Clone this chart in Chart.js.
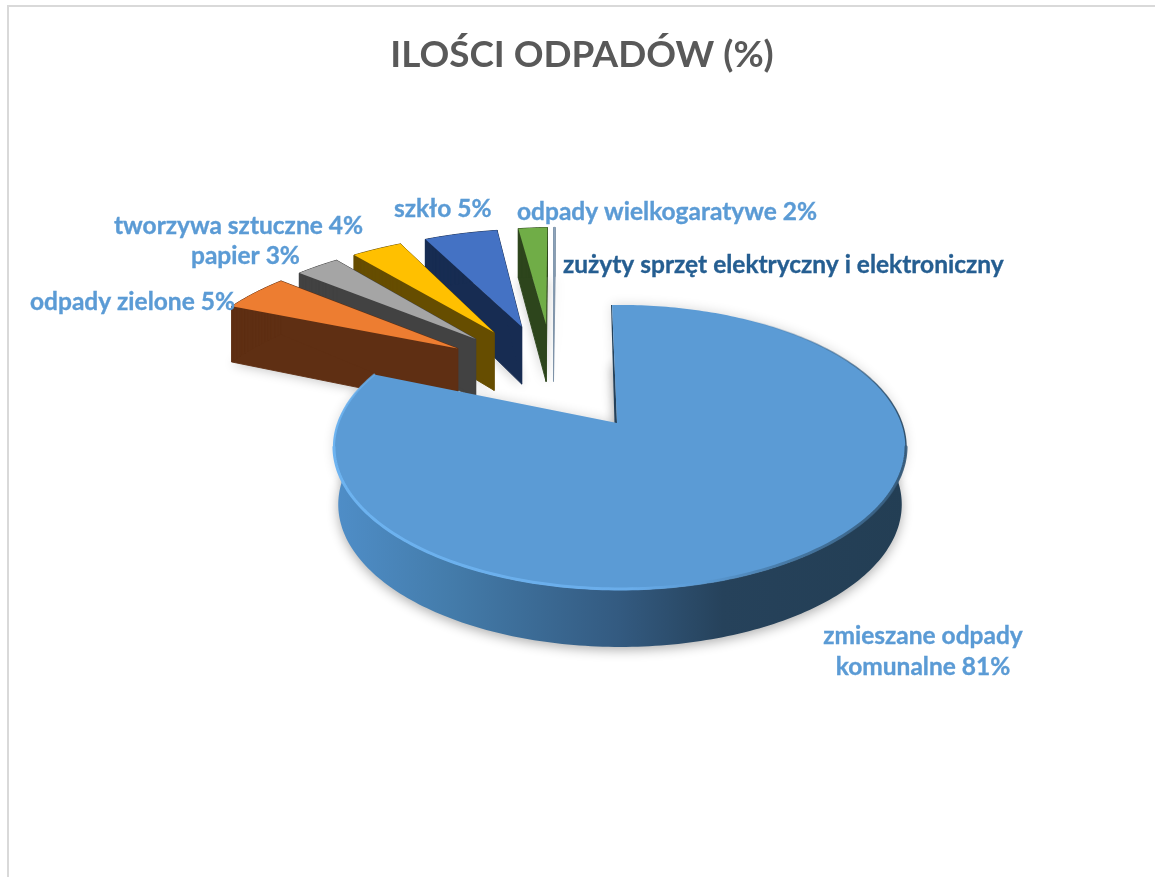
<!DOCTYPE html>
<html><head><meta charset="utf-8">
<style>
html,body{margin:0;padding:0;background:#fff;overflow:hidden}
#frame{position:absolute;left:7px;top:5px;width:1148px;height:872px;border-left:2px solid #d9d9d9;border-top:2px solid #d9d9d9;box-sizing:border-box}
canvas{display:block}
</style>
<script src="https://cdn.jsdelivr.net/npm/chart.js@4"></script>
</head><body>
<div id="frame"><canvas id="c" width="1146" height="870"></canvas></div>
<script>
const titleText = 'ILOŚCI ODPADÓW (%)';
const categories = ['zmieszane odpady komunalne','odpady zielone','papier','tworzywa sztuczne','szkło','odpady wielkogaratywe','zużyty sprzęt elektryczny i elektroniczny'];
const shares = [81.4,4.55,3.0,3.5,5.15,2.05,0.1];
const shownPercent = [81,5,3,4,5,2,null];
const topColors = ['#5B9BD5','#ED7D31','#A5A5A5','#FFC000','#4472C4','#70AD47','#8EA4BC'];
const wallColors = ['#24415A','#5F2F13','#424242','#664D00','#172C52','#2D451C','#7F93A8'];
const labelColors = ['#5B9BD5','#5B9BD5','#5B9BD5','#5B9BD5','#5B9BD5','#5B9BD5','#255E91'];

// 3D look: projection of the pie plane on the page (canvas pixels)
const VIEW = {cx:611, cy:416, kx:281.8, ky:138.3, p:0.1716, explode:0.44, depth:57, farDepth:65, inset:0.985, smallScale:1.05, smallDX:0, smallDY:-1.5, bigTipDX:-3};
const LABEL_FONT = 'bold 24.5px Lato, Carlito, "Open Sans", sans-serif';
// label anchors: [x, y, align] per line, canvas pixels
const LABEL_LAYOUT = [
  [[914,629,'center'],[914,660,'center']],
  [[21,295,'left']],
  [[182,249,'left']],
  [[105,219,'left']],
  [[385,202,'left']],
  [[508,205,'left']],
  [[554,258,'left']]
];
const LABEL_LINES = [
  ['zmieszane odpady','komunalne '+shownPercent[0]+'%'],
  null,null,null,null,null,null
];

function project(X,Y){
  const w = 1 - VIEW.p*Y;
  return {x:VIEW.cx+VIEW.kx*X/w, y:VIEW.cy+VIEW.ky*Y/w, w};
}
function sliceOutline(el, blueMid, isBig){
  const mid=(el.startAngle+el.endAngle)/2, E=VIEW.explode;
  const scale=isBig?1:VIEW.smallScale;
  const tx=E*(Math.cos(mid)-Math.cos(blueMid)), ty=E*(Math.sin(mid)-Math.sin(blueMid));
  const n=Math.max(2,Math.ceil((el.endAngle-el.startAngle)/(Math.PI/180)));
  const nudge=q=>isBig?q:{x:q.x+VIEW.smallDX,y:q.y+VIEW.smallDY,w:q.w};
  const arc=[];
  for(let i=0;i<=n;i++){
    const a=el.startAngle+(el.endAngle-el.startAngle)*i/n;
    arc.push(nudge(project(scale*Math.cos(a)+tx,scale*Math.sin(a)+ty)));
  }
  const tip=nudge(project(tx,ty));
  if(isBig) tip.x+=VIEW.bigTipDX;
  return {tip,arc};
}
function poly(ctx,pts,dx=0,dy=0){
  ctx.beginPath();
  pts.forEach((q,i)=>i?ctx.lineTo(q.x+dx,q.y+dy):ctx.moveTo(q.x+dx,q.y+dy));
  ctx.closePath();
}
function lowerBlue(q){return {x:VIEW.cx+(q.x-VIEW.cx)*VIEW.inset,y:q.y+VIEW.depth};}
function lowerSmall(q){return {x:q.x,y:q.y+VIEW.farDepth/q.w};}
function strokeRun(ctx,pts,style,width){
  if(!pts.length) return;
  ctx.strokeStyle=style;ctx.lineWidth=width;ctx.lineCap='round';
  ctx.beginPath();
  pts.forEach((q,j)=>j?ctx.lineTo(q.x,q.y):ctx.moveTo(q.x,q.y));
  ctx.stroke();
}

const pie3d = {
  id:'pie3d',
  beforeDatasetDraw(chart){
    const ctx=chart.ctx, els=chart.getDatasetMeta(0).data;
    const blueMid=(els[0].startAngle+els[0].endAngle)/2;
    const shapes=els.map((el,i)=>sliceOutline(el,blueMid,i===0));
    const order=[6,5,4,3,2,1];

    // soft shadows
    ctx.save();
    ctx.fillStyle='#000';
    const OFF=5000;
    ctx.shadowOffsetX=OFF;
    order.forEach(i=>{
      const s=shapes[i], low=[s.tip,...s.arc].map(lowerSmall);
      ctx.shadowColor='rgba(0,0,0,.22)';ctx.shadowBlur=11;ctx.shadowOffsetY=2;
      poly(ctx,low,-OFF,0);ctx.fill();
    });
    const b0=shapes[0];
    ctx.shadowColor='rgba(0,0,0,.32)';ctx.shadowBlur=12;ctx.shadowOffsetY=3;
    poly(ctx,[b0.tip,...b0.arc].map(lowerBlue),-OFF,0);ctx.fill();
    ctx.shadowColor='rgba(0,0,0,.16)';ctx.shadowBlur=12;ctx.shadowOffsetY=0;
    poly(ctx,[b0.tip,...b0.arc],-OFF,0);ctx.fill();
    ctx.restore();

    // exploded small slices, far to near
    order.forEach(i=>{
      const s=shapes[i], ring=[s.tip,...s.arc];
      ctx.fillStyle=wallColors[i];ctx.strokeStyle=wallColors[i];ctx.lineWidth=.9;
      ring.forEach((q,j)=>{
        const r=ring[(j+1)%ring.length];
        poly(ctx,[q,r,lowerSmall(r),lowerSmall(q)]);ctx.fill();ctx.stroke();
      });
      ctx.fillStyle=topColors[i];
      poly(ctx,ring);ctx.fill();
    });

    // big slice
    const s=shapes[0];
    const x0=VIEW.cx-286, x1=VIEW.cx+286;
    const grad=ctx.createLinearGradient(x0,0,x1,0);
    grad.addColorStop(0,'#4F8EC8');
    grad.addColorStop(.2,'#447CAB');
    grad.addColorStop(.5,'#335A80');
    grad.addColorStop(.68,'#26425B');
    grad.addColorStop(1,'#233E54');
    ctx.fillStyle=grad;
    // outer wall: only the run that can show below the top face
    const mid=Math.floor(s.arc.length/4);
    const wallArc=s.arc.slice(mid);
    poly(ctx,[...wallArc,...wallArc.map(lowerBlue).reverse()]);ctx.fill();
    // thin cut wall on the left of the first radius
    const a0=s.arc[0];
    ctx.fillStyle=wallColors[0];
    poly(ctx,[a0,s.tip,{x:s.tip.x-2.5,y:s.tip.y},{x:a0.x-1,y:a0.y}]);ctx.fill();
    ctx.fillStyle=topColors[0];
    poly(ctx,[s.tip,...s.arc]);ctx.fill();
    // bevel: lit on the left and front, dark and soft on the right
    const frontBev=ctx.createLinearGradient(x0,0,x1,0);
    frontBev.addColorStop(0,'#6DB3F0');
    frontBev.addColorStop(.52,'#6AADEA');
    frontBev.addColorStop(.64,'rgba(91,155,213,.7)');
    frontBev.addColorStop(.8,'rgba(64,110,150,.8)');
    frontBev.addColorStop(1,'rgba(50,85,115,.9)');
    const backBev=ctx.createLinearGradient(x0,0,x1,0);
    backBev.addColorStop(0,'rgba(109,179,240,1)');
    backBev.addColorStop(.25,'rgba(91,155,213,0)');
    backBev.addColorStop(.7,'rgba(70,120,165,0)');
    backBev.addColorStop(1,'rgba(40,70,95,.85)');
    const half=s.arc.length/2;
    const low=VIEW.cy+24;
    const front=s.arc.filter(q=>q.y>=low);
    const rightBack=s.arc.filter((q,j)=>q.y<low && j<half);
    const leftBack=s.arc.filter((q,j)=>q.y<low && j>=half);
    ctx.save();
    ctx.filter='blur(.7px)';
    strokeRun(ctx,front.map(q=>({x:q.x,y:q.y-1})),frontBev,3);
    strokeRun(ctx,rightBack,backBev,1.5);
    strokeRun(ctx,leftBack,backBev,2.2);
    ctx.restore();
    return false;
  },
  afterDatasetsDraw(chart){
    const ctx=chart.ctx;
    ctx.save();
    ctx.font=LABEL_FONT;ctx.textBaseline='middle';ctx.lineWidth=.35;
    LABEL_LAYOUT.forEach((lines,i)=>{
      const texts=LABEL_LINES[i]||[categories[i]+(shownPercent[i]!==null?' '+shownPercent[i]+'%':'')];
      ctx.fillStyle=labelColors[i];ctx.strokeStyle=labelColors[i];
      lines.forEach((l,j)=>{ctx.textAlign=l[2];ctx.fillText(texts[j],l[0],l[1]);ctx.strokeText(texts[j],l[0],l[1]);});
    });
    ctx.restore();
  }
};

new Chart(document.getElementById('c'),{
  type:'pie',
  data:{labels:categories,datasets:[{data:shares,backgroundColor:topColors,borderWidth:0,offset:240}]},
  options:{
    responsive:false,animation:false,rotation:-1.9,
    layout:{padding:0},
    events:[],
    plugins:{
      legend:{display:false},tooltip:{enabled:false},
      title:{display:true,text:titleText,color:'#595959',font:{family:'Lato, Carlito, "Open Sans", sans-serif',size:36.9,weight:'bold'},padding:{top:26,bottom:20}}
    }
  },
  plugins:[pie3d]
});
</script>
</body></html>
